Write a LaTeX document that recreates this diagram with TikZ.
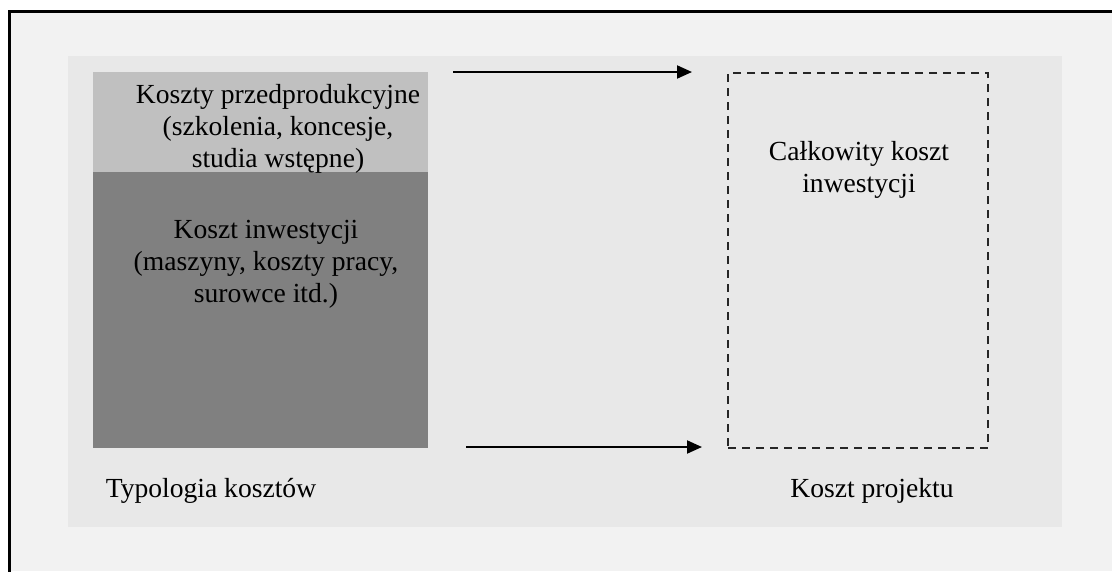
\documentclass[tikz,border=0pt]{standalone}
\usepackage{fontspec}
\setmainfont{Liberation Serif}
\usetikzlibrary{arrows.meta}
\definecolor{outerbg}{HTML}{F2F2F2}
\definecolor{panelbg}{HTML}{E8E8E8}
\definecolor{lightbox}{HTML}{C0C0C0}
\definecolor{darkbox}{HTML}{808080}
\tikzset{
  txt/.style={font=\fontsize{27.6}{31.8}\selectfont, align=center, inner sep=0pt, text=black},
  flow/.style={line width=2pt, -{Triangle[length=15pt,width=13pt]}},
  dashbox/.style={draw=black!85, line width=2pt, dash pattern=on 8pt off 6pt}
}
\begin{document}
\begin{tikzpicture}[x=1pt,y=-1pt]
\useasboundingbox (0,0) rectangle (1112,571);
\fill[white] (0,0) rectangle (1112,571);
\fill[outerbg] (9,11) rectangle (1112,571);
\draw[line width=3pt] (9,580) -- (9,11) -- (1120,11);
\fill[panelbg] (68,56) rectangle (1062,527);
\node[fill=lightbox, minimum width=335pt, minimum height=100pt, inner sep=0pt, anchor=north west] (pre) at (93,72) {};
\node[fill=darkbox, minimum width=335pt, minimum height=276pt, inner sep=0pt, anchor=north west] (inv) at (93,172) {};
\node[txt] (pretext) at (278,129) {Koszty przedprodukcyjne\\(szkolenia, koncesje,\\studia wstępne)};
\node[txt] (invtext) at (266,264) {Koszt inwestycji\\(maszyny, koszty pracy,\\surowce itd.)};
\node[dashbox, minimum width=260pt, minimum height=375pt, inner sep=0pt, anchor=north west] (total) at (727,72) {};
\node[txt] (totaltext) at (859,170) {Całkowity koszt\\inwestycji};
\node[txt] (typ) at (211,491) {Typologia kosztów};
\node[txt] (proj) at (872,491) {Koszt projektu};
\coordinate (a1s) at (453,72);
\coordinate (a1e) at (692,72);
\coordinate (a2s) at (466,447);
\coordinate (a2e) at (702,447);
\draw[flow] (a1s) -- (a1e);
\draw[flow] (a2s) -- (a2e);
\end{tikzpicture}
\end{document}
